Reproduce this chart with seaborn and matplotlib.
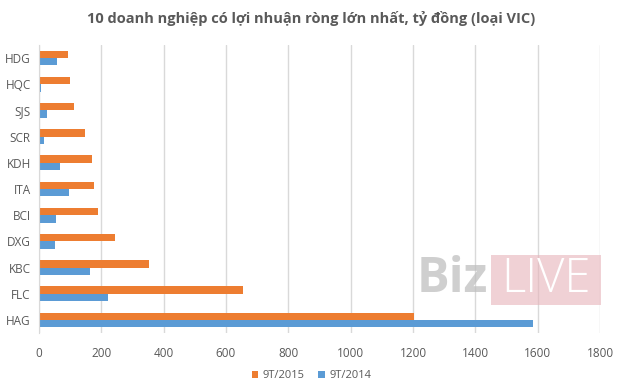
# load basic libraries
import pandas as pd
import numpy as np
import matplotlib.pyplot as plt
import matplotlib.patches as mpatches
import seaborn as sns

# chart data
companies = ['HDG', 'HQC', 'SJS', 'SCR', 'KDH', 'ITA', 'BCI', 'DXG', 'KBC', 'FLC', 'HAG']
profit_2015 = [93, 100, 111, 148, 170, 177, 190, 244, 354, 656, 1202]
profit_2014 = [58, 6, 26, 16, 67, 96, 55, 51, 164, 222, 1585]
series = ['9T/2015', '9T/2014']
colors = ['#ED7D31', '#5B9BD5']
x_ticks = [0, 200, 400, 600, 800, 1000, 1200, 1400, 1600, 1800]

# build long table for seaborn
df = pd.DataFrame({
    'company': companies * 2,
    'value': profit_2015 + profit_2014,
    'series': [series[0]] * len(companies) + [series[1]] * len(companies),
})

sns.set_style('white')
plt.rcParams['font.family'] = ['Open Sans', 'DejaVu Sans']

fig = plt.figure(figsize=(6.23, 3.92), dpi=100)
ax = fig.add_axes([39 / 623, 1 - 333 / 392, 561 / 623, 288 / 392])

sns.barplot(data=df, y='company', x='value', hue='series', order=companies,
            hue_order=series, palette=colors, width=0.56, orient='h',
            saturation=1, linewidth=0, ax=ax, legend=True)

ax.set_xlim(0, 1800)
ax.set_xticks(x_ticks)
ax.set_xlabel('')
ax.set_ylabel('')
ax.grid(axis='x', color='#D9D9D9', linewidth=1)
ax.set_axisbelow(True)
for s in ['top', 'right', 'bottom']:
    ax.spines[s].set_visible(False)
ax.spines['left'].set_color('#D9D9D9')
ax.tick_params(axis='both', length=0, labelsize=8.5, colors='#595959', pad=6)
ax.tick_params(axis='x', pad=10)

# legend at the bottom
handles, labels = ax.get_legend_handles_labels()
ax.get_legend().remove()
fig.legend(handles, labels, loc='center', bbox_to_anchor=(0.5, 1 - 376 / 392),
           ncol=2, frameon=False, fontsize=8, handlelength=0.6, handleheight=0.6,
           columnspacing=1.2, handletextpad=0.4, labelcolor='#595959')

# title
fig.text(0.5, 1 - 18 / 392, '10 doanh nghiệp có lợi nhuận ròng lớn nhất, tỷ đồng (loại VIC)',
         ha='center', va='center', fontsize=10.5, fontweight='bold', color='#595959')

# watermark
fig.patches.append(mpatches.Rectangle((491 / 623, 1 - 305 / 392), 110 / 623, 50 / 392,
                                      transform=fig.transFigure, fc='#E7B3BA', ec='none',
                                      alpha=0.6, zorder=5))
fig.text(488 / 623, 1 - 280 / 392, 'Biz', ha='right', va='center', fontsize=35,
         fontweight='bold', color='#BFBFBF', alpha=0.75, zorder=6)
fig.text(546 / 623, 1 - 280 / 392, 'LIVE', ha='center', va='center', fontsize=34,
         fontweight='light', color='white', zorder=6)

fig.savefig('out.png', dpi=100)
